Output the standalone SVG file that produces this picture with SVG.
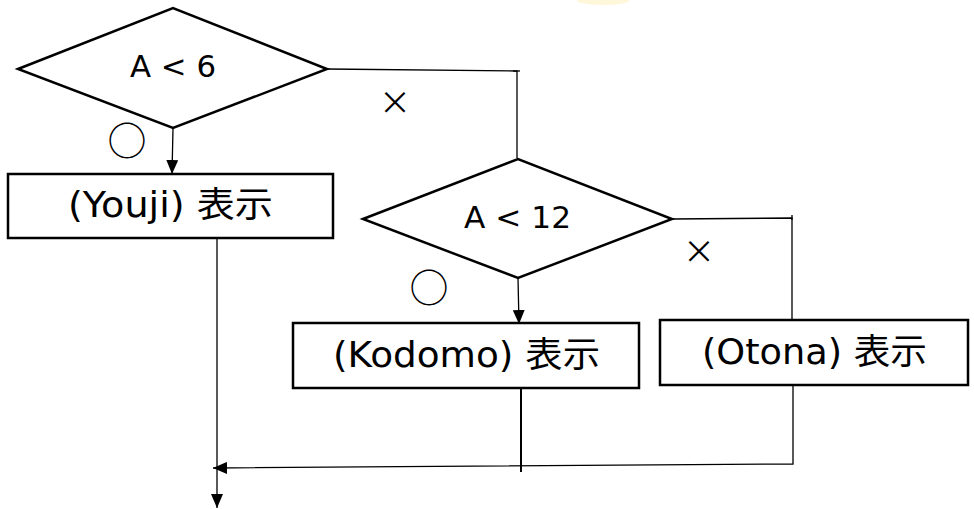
<svg xmlns="http://www.w3.org/2000/svg" width="974" height="509" viewBox="0 0 974 509">
<style>
.shape{fill:#fff;stroke:#000;stroke-width:2.5}
.conn{fill:none;stroke:#000;stroke-width:1.3}
.thick{fill:none;stroke:#000;stroke-width:2}
.lbl{font-family:"DejaVu Sans","Noto Sans CJK JP",sans-serif;fill:#000}
.big{font-size:35px}
.mark{font-family:"Noto Sans CJK JP",sans-serif;fill:#000;text-anchor:middle}
</style>
<defs>
<marker id="ahb" viewBox="0 0 14 12" refX="14" refY="6" markerWidth="14" markerHeight="12" markerUnits="userSpaceOnUse" orient="auto">
<path d="M0,0 L14,6 L0,12 Z" fill="#000"/>
</marker>
</defs>
<rect width="974" height="509" fill="#fff"/>
<ellipse cx="603" cy="1" rx="26" ry="4" fill="#fdf1c2" opacity="0.6"/>
<g id="connectors">
<path class="conn" d="M173,128 L172,174" marker-end="url(#ahb)"/>
<path class="conn" d="M327,69 L517,71 L517,158"/>
<path class="conn" d="M513,71 L520,71"/>
<path class="conn" d="M518,278 L519,324" marker-end="url(#ahb)"/>
<path class="conn" d="M672,219 L792,218 L792,320"/>
<path class="conn" d="M792,215 L792,220"/>
<path class="conn" d="M217,238 L217,508" marker-end="url(#ahb)"/>
<path class="conn" d="M793,386 L793,464 L213,468" marker-end="url(#ahb)"/>
<path class="thick" d="M521,387 L521,472"/>
</g>
<g id="d1">
<polygon class="shape" points="18,69 173,8 327,69 173,128"/>
<text class="lbl" x="130" y="77" font-size="30" textLength="86" lengthAdjust="spacingAndGlyphs">A &lt; 6</text>
</g>
<g id="d1yes"><text class="mark" x="127" y="155" font-size="39">○</text></g>
<g id="d1no"><text class="mark" x="395" y="114" font-size="32">×</text></g>
<g id="youji">
<rect class="shape" x="8" y="174" width="325" height="64"/>
<text class="lbl big" x="68" y="217" textLength="205" lengthAdjust="spacingAndGlyphs">(Youji) 表示</text>
</g>
<g id="d2">
<polygon class="shape" points="363,219 518,159 672,219 518,278"/>
<text class="lbl" x="464" y="228" font-size="30" textLength="107" lengthAdjust="spacingAndGlyphs">A &lt; 12</text>
</g>
<g id="d2yes"><text class="mark" x="429" y="302" font-size="39">○</text></g>
<g id="d2no"><text class="mark" x="699" y="263" font-size="32">×</text></g>
<g id="kodomo">
<rect class="shape" x="293" y="323" width="346" height="65"/>
<text class="lbl big" x="333" y="367" textLength="267" lengthAdjust="spacingAndGlyphs">(Kodomo) 表示</text>
</g>
<g id="otona">
<rect class="shape" x="660" y="320" width="308" height="65"/>
<text class="lbl big" x="702" y="364" textLength="225" lengthAdjust="spacingAndGlyphs">(Otona) 表示</text>
</g>
</svg>
